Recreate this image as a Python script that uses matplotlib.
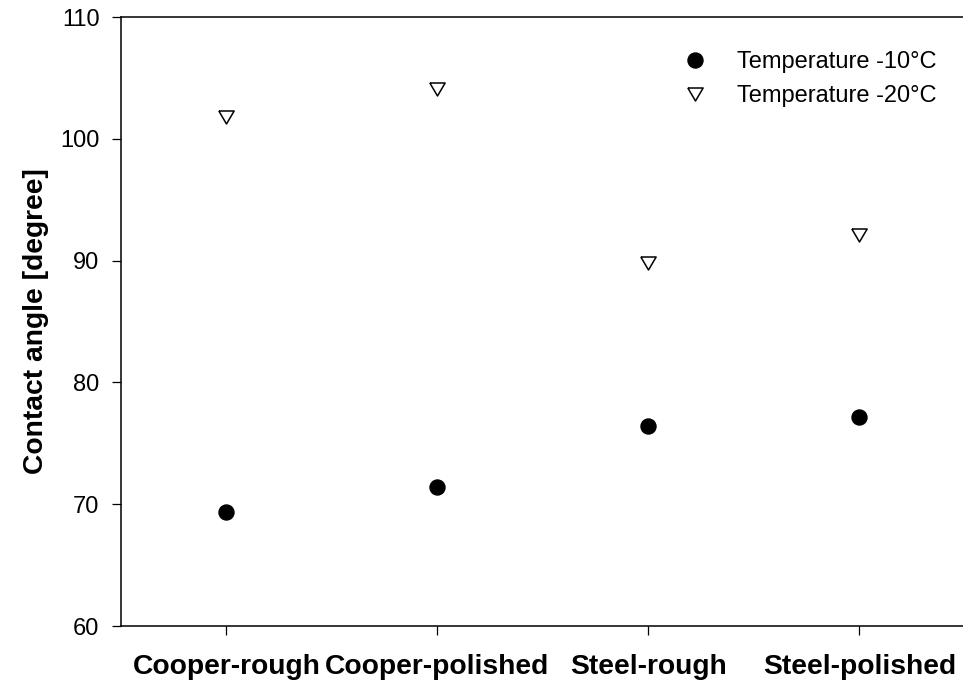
import matplotlib
matplotlib.use("Agg")
from matplotlib import pyplot as plt
import numpy as np

# contact angle per surface at two temperatures
surfaces = ["Cooper-rough", "Cooper-polished", "Steel-rough", "Steel-polished"]
angle_minus10 = [69.4, 71.4, 76.4, 77.2]
angle_minus20 = [101.8, 104.1, 89.8, 92.1]
y_ticks = [60, 70, 80, 90, 100, 110]

plt.rcParams["font.family"] = ["Liberation Sans", "DejaVu Sans"]

# slightly flattened down-pointing triangle
tri_down = [(-1.0, 0.85), (1.0, 0.85), (0.0, -0.85), (-1.0, 0.85)]

fig = plt.figure(figsize=(9.63, 6.85), dpi=100)
ax = fig.add_axes([0.1256, 0.0861, 0.8764, 0.889])

x = np.arange(1, len(surfaces) + 1)
ax.plot(x, angle_minus10, linestyle="none", marker="o", markersize=10.8,
        color="black", label="Temperature -10°C")
ax.plot(x, angle_minus20, linestyle="none", marker=tri_down, markersize=11,
        markerfacecolor="white", markeredgecolor="black", markeredgewidth=1.1,
        label="Temperature -20°C")

ax.set_xlim(0.5, 4.5)
ax.set_ylim(60, 110)
ax.set_yticks(y_ticks)
ax.set_xticks(x)
ax.set_xticklabels(surfaces, fontsize=20.3, fontweight="bold")
ax.tick_params(axis="y", labelsize=17, direction="out", length=6.5, width=0.9, pad=9)
ax.tick_params(axis="x", direction="out", length=6.5, width=0.9, pad=13.5)
ax.set_ylabel("Contact angle [degree]", fontsize=20.3, fontweight="bold", labelpad=8)

for side in ["left", "bottom", "top"]:
    ax.spines[side].set_linewidth(1.1)
ax.spines["right"].set_visible(False)

leg = ax.legend(loc="upper left", bbox_to_anchor=(683 / 963, 1 - 51 / 685),
                bbox_transform=fig.transFigure, frameon=False, fontsize=17,
                handlelength=1.0, handletextpad=1.29, labelspacing=0.5,
                borderpad=0, borderaxespad=0, numpoints=1)

fig.savefig("out.png", dpi=100)
